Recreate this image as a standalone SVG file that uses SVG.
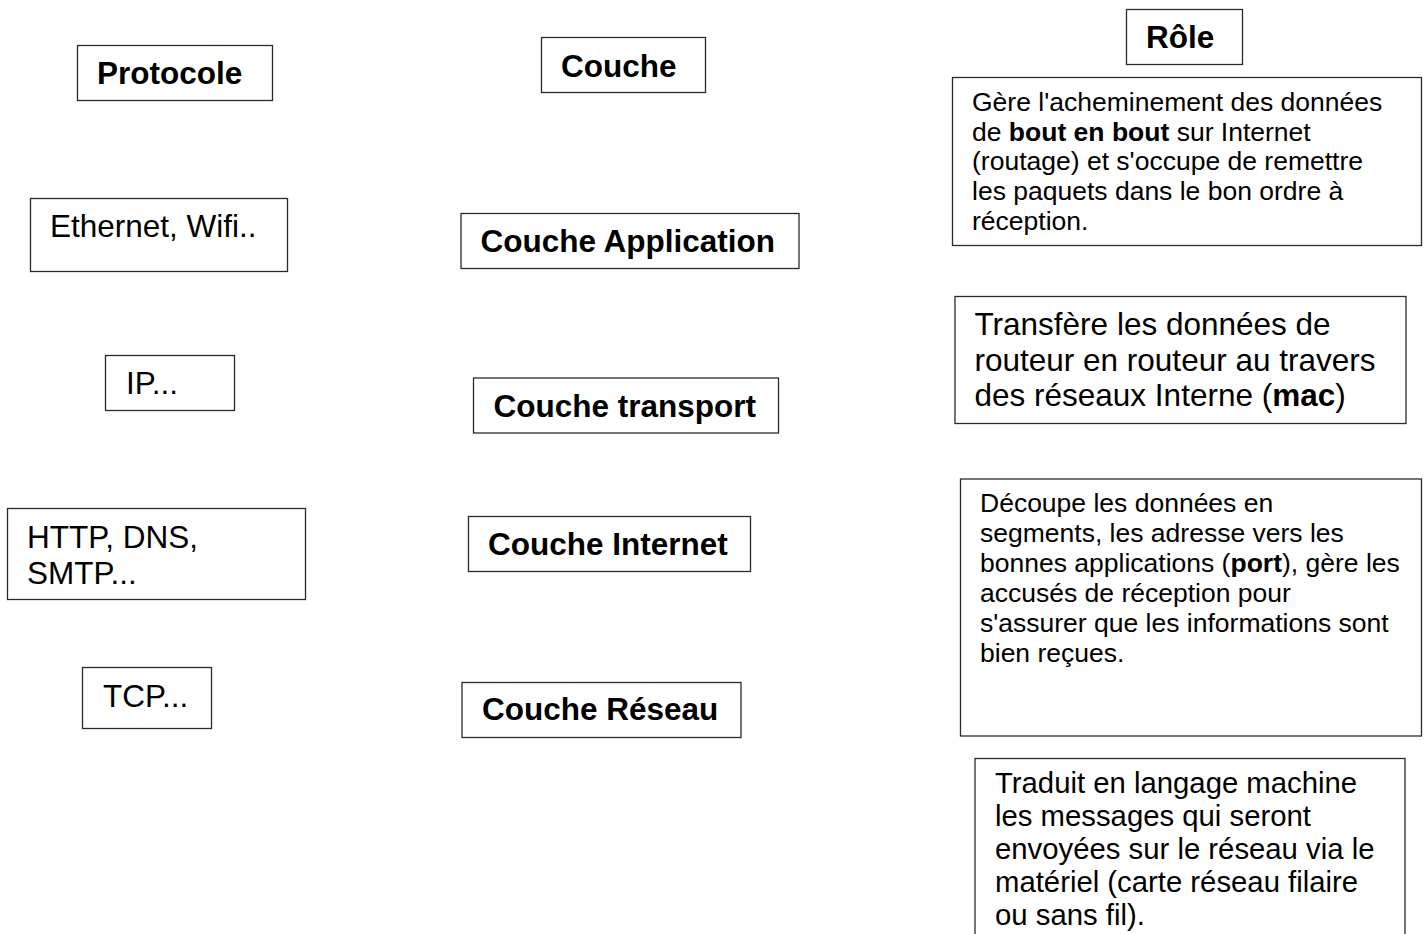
<svg xmlns="http://www.w3.org/2000/svg" width="1427" height="934" viewBox="0 0 1427 934">
  <style>
    .box { fill: #ffffff; stroke: #2a2a2a; stroke-width: 1.3; }
    text { font-family: "Liberation Sans", Arial, sans-serif; fill: #000000; }
    .lg { font-size: 31.5px; }
    .md { font-size: 26.5px; }
    .tr { font-size: 29.3px; }
    .b { font-weight: bold; }
  </style>
  <rect width="1427" height="934" fill="#ffffff"/>

  <!-- Column headers -->
  <g id="hdr-protocole">
    <rect class="box" x="77.5" y="45.5" width="195" height="55"/>
    <text class="lg b" x="97" y="84">Protocole</text>
  </g>
  <g id="hdr-couche">
    <rect class="box" x="541.5" y="37.5" width="164" height="55"/>
    <text class="lg b" x="561" y="77">Couche</text>
  </g>
  <g id="hdr-role">
    <rect class="box" x="1126.5" y="9.5" width="116" height="55"/>
    <text class="lg b" x="1146" y="48">Rôle</text>
  </g>

  <!-- Protocols -->
  <g id="p-ethernet">
    <rect class="box" x="30.5" y="198.5" width="257" height="73"/>
    <text class="lg" x="50" y="237">Ethernet, Wifi..</text>
  </g>
  <g id="p-ip">
    <rect class="box" x="105.5" y="355.5" width="129" height="55"/>
    <text class="lg" x="126" y="394">IP...</text>
  </g>
  <g id="p-http">
    <rect class="box" x="7.5" y="508.5" width="298" height="91"/>
    <text class="lg" x="27" y="548">HTTP, DNS,</text>
    <text class="lg" x="27" y="583.5">SMTP...</text>
  </g>
  <g id="p-tcp">
    <rect class="box" x="82.5" y="667.5" width="129" height="61"/>
    <text class="lg" x="103" y="706.5">TCP...</text>
  </g>

  <!-- Layers -->
  <g id="c-application">
    <rect class="box" x="461" y="213.5" width="338" height="55"/>
    <text class="lg b" x="480.5" y="251.5">Couche Application</text>
  </g>
  <g id="c-transport">
    <rect class="box" x="473.5" y="378" width="305" height="55"/>
    <text class="lg b" x="493.5" y="416.5">Couche transport</text>
  </g>
  <g id="c-internet">
    <rect class="box" x="468.5" y="516.5" width="282" height="55"/>
    <text class="lg b" x="488" y="555">Couche Internet</text>
  </g>
  <g id="c-reseau">
    <rect class="box" x="462" y="682.5" width="279" height="55"/>
    <text class="lg b" x="482" y="720">Couche Réseau</text>
  </g>

  <!-- Roles -->
  <g id="r-internet">
    <rect class="box" x="952.5" y="77.5" width="469" height="168"/>
    <text class="md" x="972" y="111">Gère l'acheminement des données</text>
    <text class="md" x="972" y="140.7">de <tspan class="b">bout en bout</tspan> sur Internet</text>
    <text class="md" x="972" y="170.4">(routage) et s'occupe de remettre</text>
    <text class="md" x="972" y="200.1">les paquets dans le bon ordre à</text>
    <text class="md" x="972" y="229.8">réception.</text>
  </g>
  <g id="r-reseau">
    <rect class="box" x="955" y="296.5" width="451" height="127"/>
    <text class="lg" x="974.5" y="335">Transfère les données de</text>
    <text class="lg" x="974.5" y="370.7">routeur en routeur au travers</text>
    <text class="lg" x="974.5" y="406.4">des réseaux Interne (<tspan class="b">mac</tspan>)</text>
  </g>
  <g id="r-transport">
    <rect class="box" x="960.5" y="479" width="461" height="257"/>
    <text class="md" x="980" y="511.7">Découpe les données en</text>
    <text class="md" x="980" y="541.7">segments, les adresse vers les</text>
    <text class="md" x="980" y="571.7">bonnes applications (<tspan class="b">port</tspan>), gère les</text>
    <text class="md" x="980" y="601.7">accusés de réception pour</text>
    <text class="md" x="980" y="631.7">s'assurer que les informations sont</text>
    <text class="md" x="980" y="661.7">bien reçues.</text>
  </g>
  <g id="r-application">
    <rect class="box" x="975" y="758.5" width="430" height="200"/>
    <text class="tr" x="995" y="793">Traduit en langage machine</text>
    <text class="tr" x="995" y="826">les messages qui seront</text>
    <text class="tr" x="995" y="859">envoyées sur le réseau via le</text>
    <text class="tr" x="995" y="892">matériel (carte réseau filaire</text>
    <text class="tr" x="995" y="925">ou sans fil).</text>
  </g>

  <!-- No connectors in this layout -->
  <g id="connectors"/>
</svg>
